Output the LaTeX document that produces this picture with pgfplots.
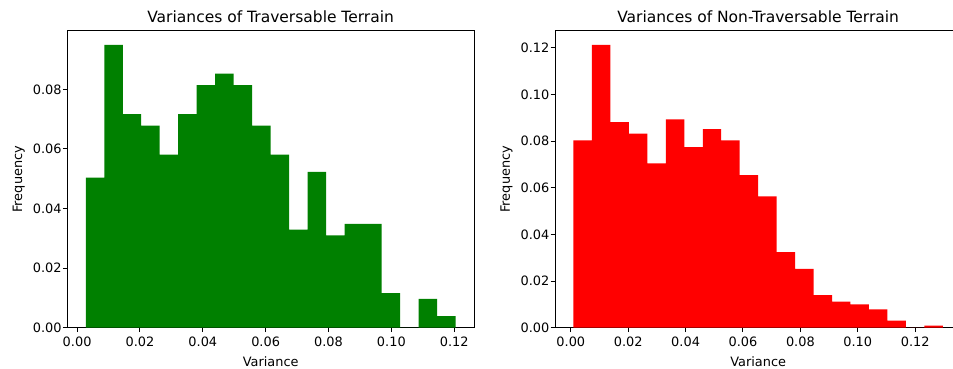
\documentclass[border=0pt]{standalone}
\usepackage{pgfplots}
\pgfplotsset{compat=1.18}
\usepackage{fontspec}
\setmainfont{DejaVu Sans}
\definecolor{mplgreen}{HTML}{008000}
\definecolor{mplred}{HTML}{FF0000}
\pgfplotsset{
  histax/.style={
    scale only axis,
    anchor=south west,
    height=297pt,
    ymin=0,
    tick pos=left,
    tick align=outside,
    major tick length=4.5pt,
    every tick/.style={black, line width=1pt},
    axis line style={black, line width=1pt},
    scaled ticks=false,
    xtick={0,0.02,0.04,0.06,0.08,0.10,0.12},
    /pgf/number format/.cd, fixed, fixed zerofill, precision=2, assume math mode=true,
    /pgfplots/.cd,
    tick label style={font=\fontsize{12.9}{15}\selectfont, inner sep=1pt},
    xticklabel style={yshift=-3.5pt},
    label style={font=\fontsize{12.9}{15}\selectfont},
    xlabel style={inner sep=0pt, yshift=-8.5pt},
    ylabel style={yshift=3.5pt},
    title style={font=\fontsize{15.5}{18}\selectfont, at={(0.5,1)}, anchor=south, yshift=-1.5pt},
    xlabel={Variance},
    ylabel={Frequency},
  }
}
\begin{document}
\begin{tikzpicture}
\useasboundingbox (0,0) rectangle (953pt,369pt);
\clip (0,0) rectangle (953pt,369pt);
\begin{axis}[histax,
  at={(67.3pt,41.3pt)}, width=406.7pt,
  xmin=-0.00312, xmax=0.12630, ymax=0.09971,
  ytick={0,0.02,0.04,0.06,0.08},
  title={Variances of Traversable Terrain}]
\addplot[ybar interval, fill=mplgreen, draw=none] coordinates {
(0.00276,0.05039) (0.00864,0.09496) (0.01453,0.07171) (0.02041,0.06783)
(0.02629,0.05814) (0.03218,0.07171) (0.03806,0.08140) (0.04394,0.08527)
(0.04982,0.08140) (0.05571,0.06783) (0.06159,0.05814) (0.06747,0.03295)
(0.07336,0.05233) (0.07924,0.03101) (0.08512,0.03488) (0.09101,0.03488)
(0.09689,0.01163) (0.10277,0) (0.10865,0.00969) (0.11454,0.00388)
(0.12042,0.00388)};
\end{axis}
\begin{axis}[histax,
  at={(555pt,41.3pt)}, width=406.3pt,
  xmin=-0.00551, xmax=0.13608, ymax=0.1274,
  ytick={0,0.02,0.04,0.06,0.08,0.10,0.12},
  title={Variances of Non-Traversable Terrain}]
\addplot[ybar interval, fill=mplred, draw=none] coordinates {
(0.00093,0.0803) (0.00737,0.1213) (0.01380,0.0882) (0.02024,0.0832)
(0.02667,0.0705) (0.03311,0.0894) (0.03954,0.0775) (0.04598,0.0852)
(0.05241,0.0803) (0.05885,0.0654) (0.06529,0.0563) (0.07172,0.0324)
(0.07816,0.0252) (0.08459,0.0140) (0.09103,0.0112) (0.09746,0.0100)
(0.10390,0.0079) (0.11033,0.0030) (0.11677,0) (0.12320,0.0009)
(0.12964,0.0009)};
\end{axis}
\end{tikzpicture}
\end{document}
